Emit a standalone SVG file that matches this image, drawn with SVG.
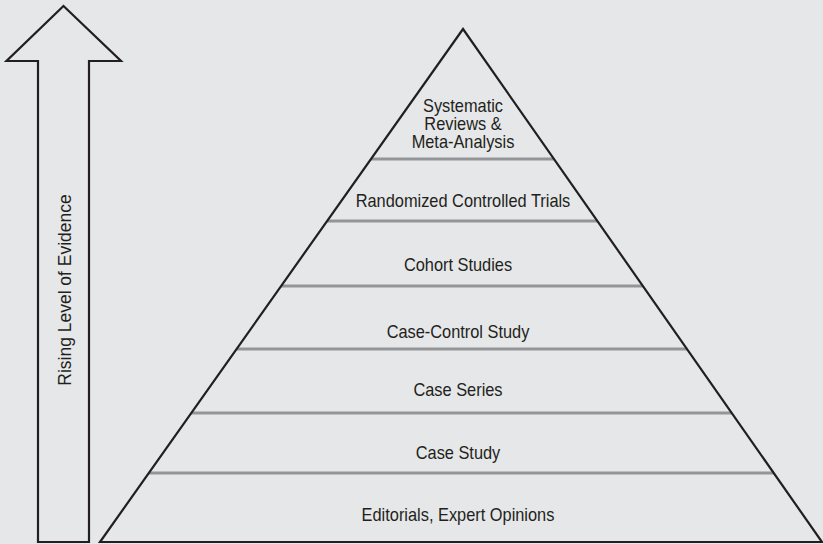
<svg xmlns="http://www.w3.org/2000/svg" width="823" height="544" viewBox="0 0 823 544">
<style>
.bg{fill:#e6e7e8}
.outline{fill:none;stroke:#231f20;stroke-width:2.2;stroke-linejoin:miter}
.div{stroke:#939598;stroke-width:3}
.lbl{font-family:"Liberation Sans",Arial,sans-serif;font-size:18px;fill:#231f20;text-anchor:middle}
.side{font-family:"Liberation Sans",Arial,sans-serif;font-size:19px;fill:#231f20;text-anchor:middle}
</style>
<rect class="bg" x="0" y="0" width="823" height="544"/>
<g id="arrow">
<polygon class="outline" points="63.5,6 121,61 89,61 89,542 38,542 38,61 6.5,61"/>
<text class="side" transform="translate(71,290) rotate(-90) scale(0.92,1)">Rising Level of Evidence</text>
</g>
<g id="connectors">
<line class="div" x1="371" y1="159" x2="554" y2="159"/>
<line class="div" x1="327" y1="221" x2="597" y2="221"/>
<line class="div" x1="281" y1="286" x2="643" y2="286"/>
<line class="div" x1="237" y1="349" x2="687" y2="349"/>
<line class="div" x1="191" y1="413" x2="732" y2="413"/>
<line class="div" x1="149" y1="473" x2="774" y2="473"/>
</g>
<g id="pyramid">
<polygon class="outline" points="463,29 822,542 100,542"/>
</g>
<g id="level7">
<text class="lbl" transform="translate(463,112) scale(0.91,1)">Systematic</text>
<text class="lbl" transform="translate(463,130) scale(0.91,1)">Reviews &amp;</text>
<text class="lbl" transform="translate(463,148) scale(0.91,1)">Meta-Analysis</text>
</g>
<g id="level6"><text class="lbl" transform="translate(463,207) scale(0.91,1)">Randomized Controlled Trials</text></g>
<g id="level5"><text class="lbl" transform="translate(458,271) scale(0.91,1)">Cohort Studies</text></g>
<g id="level4"><text class="lbl" transform="translate(458,338) scale(0.91,1)">Case-Control Study</text></g>
<g id="level3"><text class="lbl" transform="translate(458,396) scale(0.91,1)">Case Series</text></g>
<g id="level2"><text class="lbl" transform="translate(458,459) scale(0.91,1)">Case Study</text></g>
<g id="level1"><text class="lbl" transform="translate(458,521) scale(0.91,1)">Editorials, Expert Opinions</text></g>
</svg>
